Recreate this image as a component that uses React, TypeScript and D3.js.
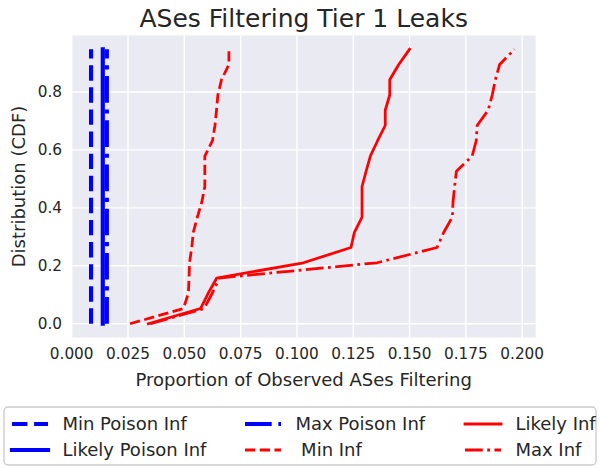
import React from "react";
import * as d3 from "d3";

const W = 600;
const H = 468;

const cdf = [0, 0.0526, 0.1053, 0.1579, 0.2105, 0.2632, 0.3158, 0.3684, 0.4211, 0.4737, 0.5263, 0.5789, 0.6316, 0.6842, 0.7368, 0.7895, 0.8421, 0.8947, 0.9474];

const minPoisonInf = [0.0086, 0.0086, 0.0086, 0.0086, 0.0086, 0.0086, 0.0086, 0.0086, 0.0086, 0.0086, 0.0086, 0.0086, 0.0086, 0.0086, 0.0086, 0.0086, 0.0086, 0.0086, 0.0086];
const likelyPoisonInf = [0.0138, 0.0138, 0.0138, 0.0138, 0.0138, 0.0138, 0.0138, 0.0138, 0.0138, 0.0138, 0.0138, 0.0138, 0.0138, 0.0138, 0.0138, 0.0138, 0.0138, 0.0138, 0.0138];
const maxPoisonInf = [0.0156, 0.0156, 0.0156, 0.0156, 0.0156, 0.0156, 0.0156, 0.0156, 0.0156, 0.0156, 0.0156, 0.0156, 0.0156, 0.0156, 0.0156, 0.0156, 0.0156, 0.0156, 0.0156];
const minInf = [0.0259, 0.0496, 0.0518, 0.0521, 0.0523, 0.0533, 0.054, 0.0558, 0.0578, 0.0591, 0.0591, 0.0591, 0.0625, 0.0636, 0.0643, 0.0649, 0.0665, 0.0698, 0.0698];
const likelyInf = [0.034, 0.0572, 0.0606, 0.0644, 0.1029, 0.124, 0.1255, 0.1289, 0.1289, 0.1289, 0.1307, 0.1326, 0.1358, 0.1392, 0.1392, 0.1412, 0.1412, 0.1452, 0.15];
const maxInf = [0.035, 0.0588, 0.0624, 0.0655, 0.1356, 0.1622, 0.1652, 0.169, 0.1693, 0.17, 0.1708, 0.1778, 0.1796, 0.18, 0.1849, 0.1867, 0.1881, 0.19, 0.1966];

const seriesNames = ["Min Poison Inf", "Likely Poison Inf", "Max Poison Inf", " Min Inf", "Likely Inf", "Max Inf"];
const seriesValues = [minPoisonInf, likelyPoisonInf, maxPoisonInf, minInf, likelyInf, maxInf];
const seriesColors = ["#0000ff", "#0000ff", "#0000ff", "#ff0000", "#ff0000", "#ff0000"];
const seriesStyles = ["dashed", "solid", "dashdot", "dashed", "solid", "dashdot"];
const seriesWidths = [4.17, 4.17, 4.17, 2.78, 2.78, 2.78];

const xTicks = [0, 0.025, 0.05, 0.075, 0.1, 0.125, 0.15, 0.175, 0.2];
const yTicks = [0, 0.2, 0.4, 0.6, 0.8];

const title = "ASes Filtering Tier 1 Leaks";
const xLabel = "Proportion of Observed ASes Filtering";
const yLabel = "Distribution (CDF)";

const FONT = "'DejaVu Sans', sans-serif";
const TXT = "#262626";

function dashFor(style: string, lw: number): string | undefined {
  if (style === "dashed") return `${3.7 * lw} ${1.6 * lw}`;
  if (style === "dashdot") return `${6.4 * lw} ${1.6 * lw} ${1 * lw} ${1.6 * lw}`;
  return undefined;
}

export default function App() {
  const left = 71.7, right = 535.7, top = 35.5, bottom = 337.5;
  const allX = seriesValues.flat();
  const xMaxData = d3.max(allX) as number;
  const xMinData = d3.min(allX) as number;
  const yMaxData = d3.max(cdf) as number;
  const x = d3.scaleLinear().domain([0, xMaxData + 0.05 * (xMaxData - xMinData)]).range([left, right]);
  const y = d3.scaleLinear().domain([-0.05 * yMaxData, 1.05 * yMaxData]).range([bottom, top]);

  const line = d3.line<[number, number]>().x(d => x(d[0])).y(d => y(d[1]));

  // legend layout
  const legLeft = 4, legTop = 407, legW = 592, legH = 58;
  const colX = [12, 245, 465];
  const rowY = [424, 450];
  const handleLen = 36;

  return (
    <svg width={W} height={H} style={{ display: "block", position: "absolute", left: 0, top: 0 }} fontFamily={FONT}>
      <rect x={0} y={0} width={W} height={H} fill="#ffffff" />
      <rect x={left} y={top} width={right - left} height={bottom - top} fill="#EAEAF2" />
      {xTicks.map(t => (
        <line key={"gx" + t} x1={x(t)} x2={x(t)} y1={top} y2={bottom} stroke="#ffffff" strokeWidth={1.4} />
      ))}
      {yTicks.map(t => (
        <line key={"gy" + t} x1={left} x2={right} y1={y(t)} y2={y(t)} stroke="#ffffff" strokeWidth={1.4} />
      ))}
      <g>
        {seriesValues.map((vals, i) => {
          const pts = vals.map((v, j) => [v, cdf[j]] as [number, number]);
          return (
            <path
              key={"s" + i}
              d={line(pts) as string}
              fill="none"
              stroke={seriesColors[i]}
              strokeWidth={seriesWidths[i]}
              strokeDasharray={dashFor(seriesStyles[i], seriesWidths[i])}
              strokeLinejoin="round"
              strokeLinecap={seriesStyles[i] === "solid" ? "square" : "butt"}
            />
          );
        })}
      </g>
      {xTicks.map(t => (
        <text key={"xt" + t} x={x(t)} y={359} textAnchor="middle" fontSize={15.3} fill={TXT}>
          {d3.format(".3f")(t)}
        </text>
      ))}
      {yTicks.map(t => (
        <text key={"yt" + t} x={62} y={y(t)} dy="0.35em" textAnchor="end" fontSize={15.3} fill={TXT}>
          {d3.format(".1f")(t)}
        </text>
      ))}
      <text x={(left + right) / 2} y={386} textAnchor="middle" fontSize={18} fill={TXT}>{xLabel}</text>
      <text transform={`translate(25, ${(top + bottom) / 2}) rotate(-90)`} textAnchor="middle" fontSize={18} fill={TXT}>{yLabel}</text>
      <text x={(left + right) / 2} y={27} textAnchor="middle" fontSize={25} fill={TXT}>{title}</text>

      <rect x={legLeft} y={legTop} width={legW} height={legH} rx={4} ry={4} fill="#ffffff" fillOpacity={0.8} stroke="#cccccc" strokeWidth={1.4} />
      {seriesNames.map((name, i) => {
        const c = Math.floor(i / 2);
        const r = i % 2;
        const hx = colX[c];
        const hy = rowY[r];
        return (
          <g key={"lg" + i}>
            <line
              x1={hx}
              x2={hx + handleLen}
              y1={hy}
              y2={hy}
              stroke={seriesColors[i]}
              strokeWidth={seriesWidths[i]}
              strokeDasharray={dashFor(seriesStyles[i], seriesWidths[i])}
              strokeLinecap={seriesStyles[i] === "solid" ? "square" : "butt"}
            />
            <text x={hx + handleLen + 14.4} y={hy} dy="0.35em" fontSize={18} fill={TXT} style={{ whiteSpace: "pre" }}>
              {name}
            </text>
          </g>
        );
      })}
    </svg>
  );
}
